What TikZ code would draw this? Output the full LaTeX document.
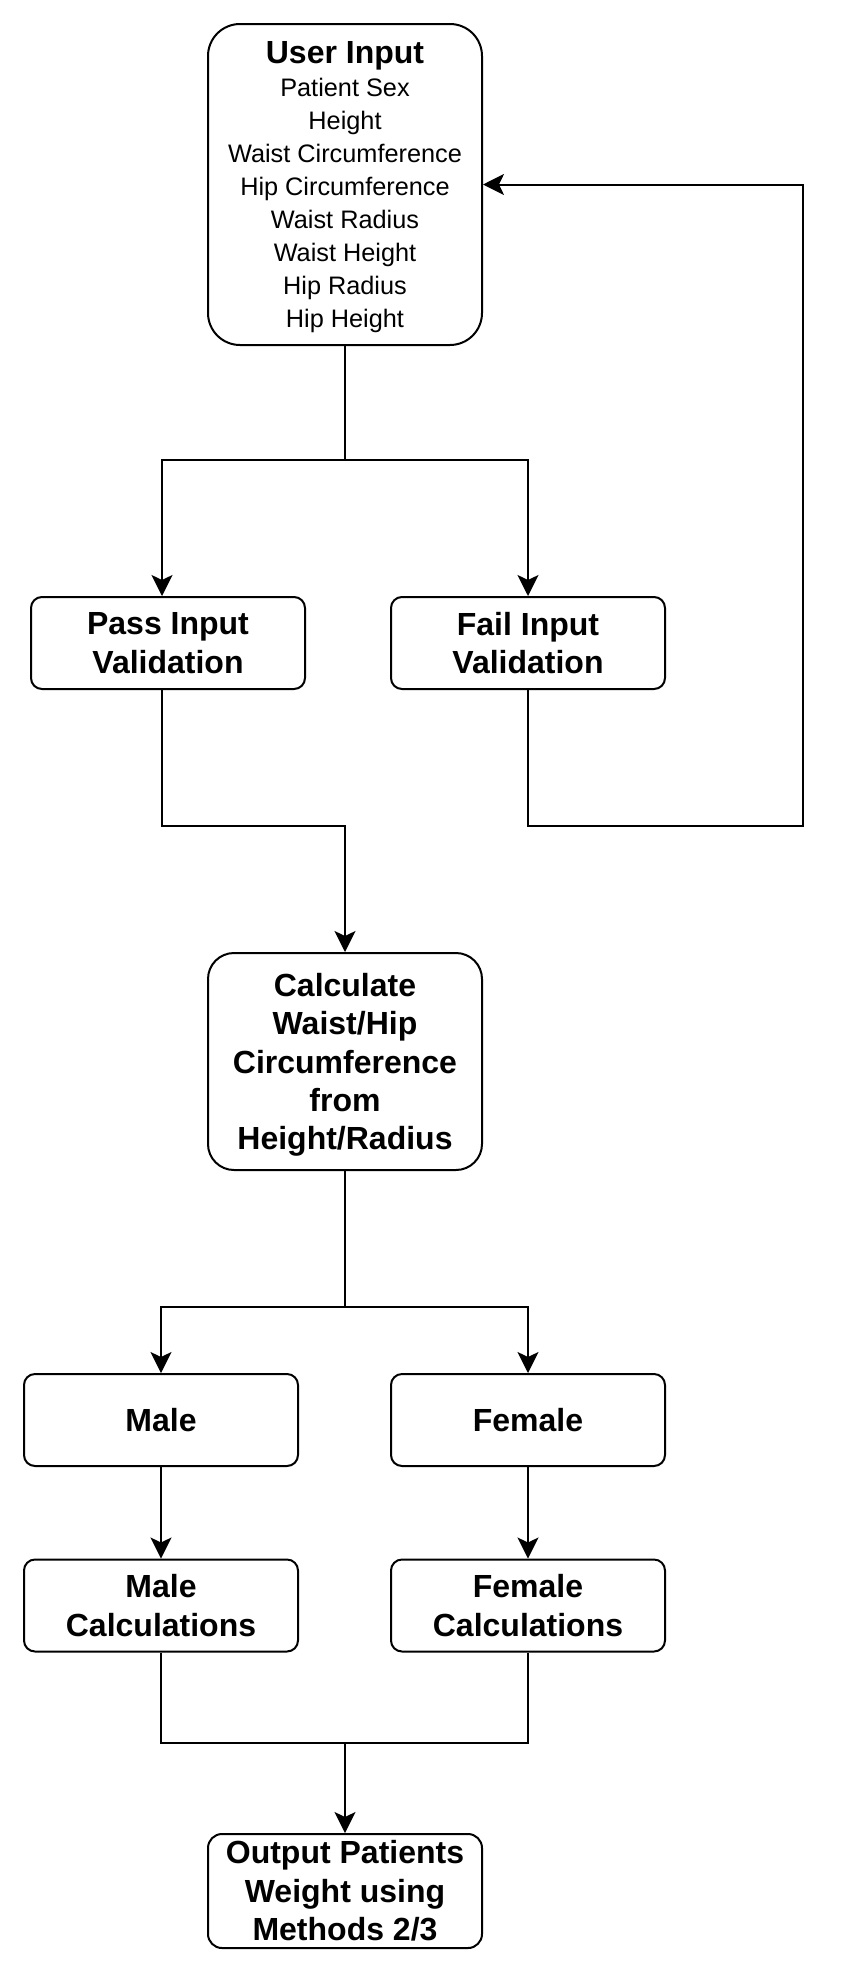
\documentclass[tikz,border=0pt]{standalone}
\usepackage{fontspec}
\setmainfont{Liberation Sans}
\usetikzlibrary{arrows.meta,calc}
\begin{document}
\begin{tikzpicture}[x=1pt,y=-1pt,
  box/.style={draw,line width=2pt,inner sep=0pt,align=center,minimum width=274pt,
    font=\bfseries\fontsize{32}{38.4}\selectfont},
  smallbox/.style={box,minimum height=92pt,rounded corners=11pt},
  conn/.style={line width=2pt},
  arr/.style={conn,-{Stealth[length=21pt,width=21pt,inset=5pt]}}]
\useasboundingbox (0,0) rectangle (848,1973);

% boxes
\node[box,minimum height=321pt,rounded corners=32pt,text depth=-3pt,font=\fontsize{25.3}{33}\selectfont]
  (ui) at (345,184.5) {{\bfseries\fontsize{32}{33}\selectfont User Input}\\Patient Sex\\Height\\Waist Circumference\\Hip Circumference\\Waist Radius\\Waist Height\\Hip Radius\\Hip Height};
\node[smallbox] (pass) at (168,643) {Pass Input\\Validation};
\node[smallbox] (fail) at (528,643) {Fail Input\\Validation};
\node[box,minimum height=217pt,rounded corners=26pt,text depth=-1.5pt] (calc) at (345,1061.5)
  {Calculate\\Waist/Hip\\Circumference\\from\\Height/Radius};
\node[smallbox] (male) at (161,1420) {Male};
\node[smallbox] (female) at (528,1420) {Female};
\node[smallbox] (mcalc) at (161,1605.5) {Male\\Calculations};
\node[smallbox] (fcalc) at (528,1605.5) {Female\\Calculations};
\node[box,minimum height=114pt,rounded corners=14pt] (out) at (345,1891)
  {Output Patients\\Weight using\\Methods 2/3};

% junction coordinates
\coordinate (s1l) at (162,459.5);
\coordinate (s1r) at (528,459.5);
\coordinate (loopbr) at (803,826);
\coordinate (pb) at (162,826);
\coordinate (s2l) at (161,1307);
\coordinate (s2r) at (528,1307);
\coordinate (j) at (345,1742.5);

% connectors
\draw[arr] (ui.south) |- (s1l) -- (s1l |- pass.north);
\draw[arr] (ui.south) |- (s1r) -- (fail.north);
\draw[arr] (fail.south) |- (loopbr) |- (ui.east);
\draw[arr] (pb |- pass.south) -- (pb) -| (calc.north);
\draw[arr] (calc.south) |- (s2l) -- (male.north);
\draw[arr] (calc.south) |- (s2r) -- (female.north);
\draw[arr] (male) -- (mcalc);
\draw[arr] (female) -- (fcalc);
\draw[conn] (mcalc.south) |- (j) -| (fcalc.south);
\draw[arr] (j) -- (out.north);
\end{tikzpicture}
\end{document}
